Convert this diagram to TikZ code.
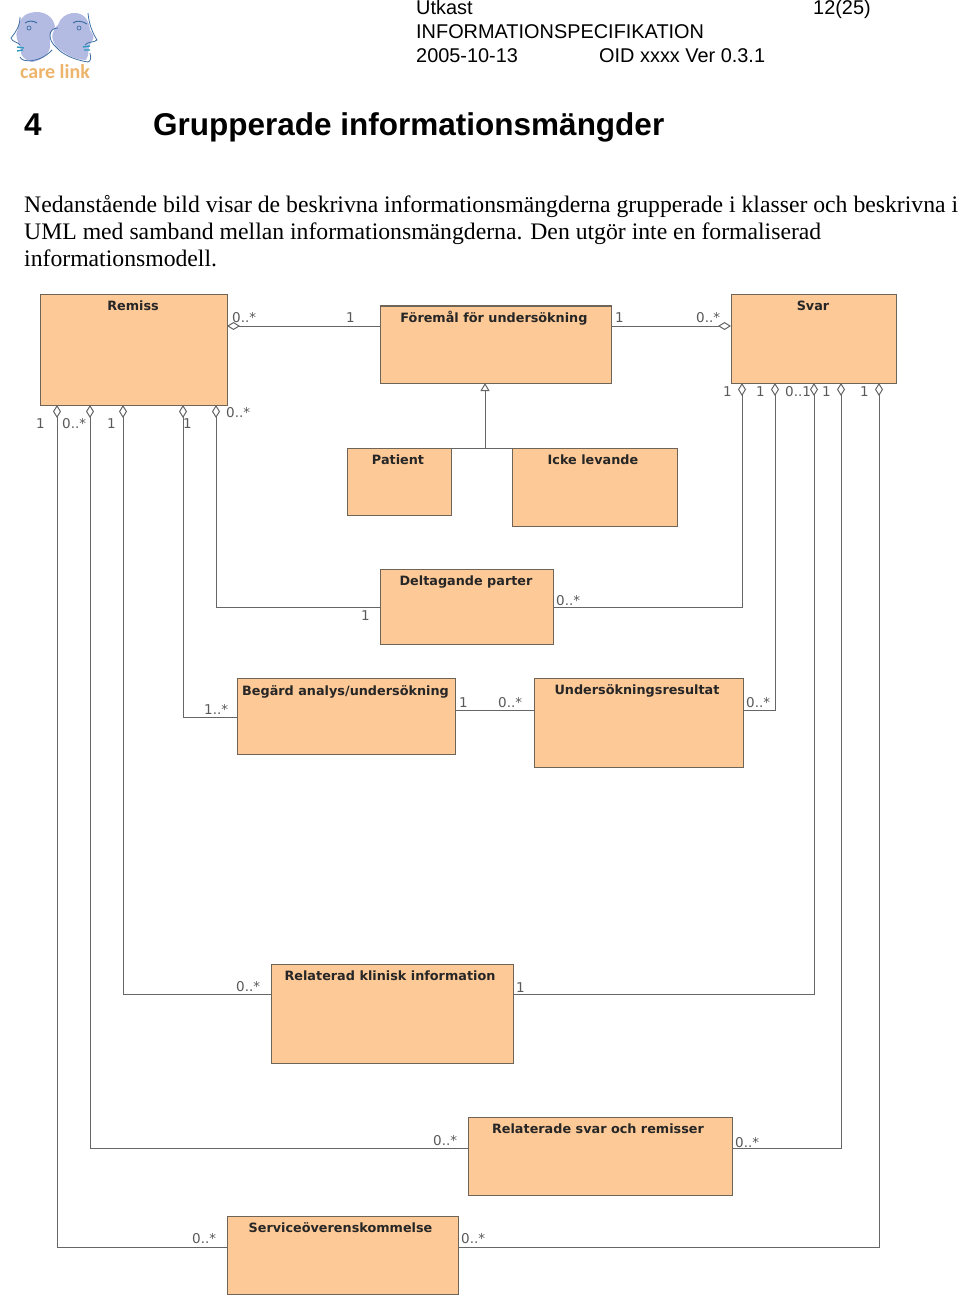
\documentclass[tikz,border=0pt]{standalone}
\usepackage{fontspec}
\setmainfont{Liberation Serif}
\newfontfamily\hdfont{Liberation Sans}
\newfontfamily\umlfont{DejaVu Sans}
\newfontfamily\logofont{Carlito}
\usetikzlibrary{arrows.meta}
\definecolor{umlfill}{HTML}{FDC997}
\definecolor{umlline}{HTML}{6E6458}
\definecolor{wire}{HTML}{666666}
\definecolor{face}{HTML}{B4BBE2}
\definecolor{faceline}{HTML}{3F6FA5}
\definecolor{logoorange}{HTML}{EDB46C}
\tikzset{
  x=1pt,y=-1pt,
  umlbox/.style={draw=umlline,line width=1pt,fill=umlfill,inner sep=0pt,outer sep=0pt,anchor=north west},
  umltitle/.style={font=\umlfont\bfseries\fontsize{12.8}{15}\selectfont,text=black!85,inner sep=0pt,anchor=base},
  mult/.style={font=\umlfont\fontsize{13.5}{15}\selectfont,text=black!65,inner sep=0pt,anchor=base west},
  wireline/.style={draw=wire,line width=1pt},
  aggr/.style={wireline,{Diamond[open,fill=white,length=13pt,width=8pt,line width=1pt]}-},
  inherit/.style={wireline,{Triangle[open,fill=white,length=8pt,width=9pt,line width=1pt]}-},
  hdtext/.style={font=\hdfont\fontsize{19.9}{24}\selectfont,inner sep=0pt,anchor=base west},
  bodytext/.style={font=\fontsize{23.7}{27}\selectfont,inner sep=0pt,anchor=base west},
}
\newcommand{\umlnode}[6]{% name, x1,y1,x2,y2, title x
  \node[umlbox,minimum width=#4pt-#2pt,minimum height=#5pt-#3pt] (#1) at (#2,#3) {};
}
\begin{document}
\begin{tikzpicture}
\useasboundingbox (0,0) rectangle (960,1305);
% logo
\path[fill=face] (30,13) .. controls (45,9) and (54,18) .. (55,27) .. controls (51,31) and (49,36) .. (50,44) .. controls (51,52) and (44,60) .. (32,62) .. controls (24,60) and (20,55) .. (21,50) .. controls (18,40) and (14,36) .. (18,30) .. controls (18,22) and (22,15) .. (30,13) -- cycle;
\path[fill=face] (72,13) .. controls (84,12) and (89,20) .. (90,30) .. controls (93,34) and (95,38) .. (92,41) .. controls (87,46) and (90,55) .. (86,60) .. controls (72,60) and (60,50) .. (56,46) .. controls (50,38) and (52,30) .. (58,25) .. controls (60,18) and (66,14) .. (72,13) -- cycle;
\draw[faceline,line width=.8pt] (20,17) .. controls (20,26) and (16,32) .. (11,38) .. controls (12,42) and (18,42) .. (20,45);
\draw[faceline,line width=.8pt] (20,57) .. controls (22,63) and (40,63) .. (52,50);
\draw[faceline,line width=.8pt] (88,13) .. controls (89,24) and (92,32) .. (97,40) .. controls (94,43) and (88,41) .. (85,45);
\draw[faceline,line width=.8pt] (90,53) .. controls (91,58) and (91,61) .. (88,62) .. controls (74,60) and (62,54) .. (57,48) .. controls (47,40) and (48,28) .. (58,28);
\draw[faceline,line width=1pt] (25,23) .. controls (29,20) and (34,21) .. (37,23) (73,23) .. controls (77,20) and (82,21) .. (87,24);
\draw[faceline,line width=.7pt] (29,28) circle[radius=2] (79,28) circle[radius=2];
\draw[faceline!70!cyan,line width=1.4pt] (17,47) -- (24,48) (17,51) -- (23,50) (90,46) -- (83,47) (90,50) -- (84,50);
\node[font=\logofont\bfseries\fontsize{20}{22}\selectfont,text=logoorange,inner sep=0pt,anchor=base] (logotext) at (55,79) {care link};
% header
\node[hdtext] (h1) at (416,15) {Utkast};
\node[hdtext] (h2) at (416,39) {INFORMATIONSPECIFIKATION};
\node[hdtext] (h3) at (416,63) {2005-10-13};
\node[hdtext] (h4) at (599,63) {OID xxxx Ver 0.3.1};
\node[hdtext] (h5) at (813,15) {12(25)};
\node[font=\hdfont\bfseries\fontsize{31.5}{36}\selectfont,inner sep=0pt,anchor=base west] (num) at (24,136) {4};
\node[font=\hdfont\bfseries\fontsize{31.5}{36}\selectfont,inner sep=0pt,anchor=base west] (head) at (153,136) {Grupperade informationsmängder};
\node[bodytext] (b1) at (24,213) {Nedanstående bild visar de beskrivna informationsmängderna grupperade i klasser och beskrivna i};
\node[bodytext] (b2) at (24,240) {UML med samband mellan informationsmängderna. Den utgör inte en formaliserad};
\node[bodytext] (b3) at (24,267) {informationsmodell.};
% boxes
\umlnode{remiss}{40}{295}{227}{405}{}
\umlnode{foremal}{380}{306}{611}{383}{}
\umlnode{svar}{731}{295}{896}{383}{}
\umlnode{patient}{347}{448}{451}{515}{}
\umlnode{icke}{512}{448}{677}{526}{}
\umlnode{delt}{380}{569}{553}{644}{}
\umlnode{begard}{237}{678}{455}{754}{}
\umlnode{unders}{534}{678}{743}{767}{}
\umlnode{klinisk}{271}{964}{513}{1063}{}
\umlnode{relsvar}{468}{1117}{732}{1195}{}
\umlnode{service}{227}{1216}{458}{1294}{}
% titles
\node[umltitle] (t1) at (133,311) {Remiss};
\node[umltitle] (t2) at (494,322) {Föremål för undersökning};
\node[umltitle] (t3) at (813,311) {Svar};
\node[umltitle] (t4) at (398,464) {Patient};
\node[umltitle] (t5) at (593,464) {Icke levande};
\node[umltitle] (t6) at (466,585) {Deltagande parter};
\node[umltitle] (t7) at (345.5,695) {Begärd analys/undersökning};
\node[umltitle] (t8) at (637,694) {Undersökningsresultat};
\node[umltitle] (t9) at (390,980) {Relaterad klinisk information};
\node[umltitle] (t10) at (598,1133) {Relaterade svar och remisser};
\node[umltitle] (t11) at (340.5,1232) {Serviceöverenskommelse};
% route coordinates
\foreach \n/\x in {ra/57,rb/90,rc/123,rd/183,re/216,sa/742,sb/775,sc/814,sd/841,se/879,inh/485}{\coordinate (\n) at (\x,0);}
\foreach \n/\y in {ya/326,yb/710}{\coordinate (\n) at (0,\y);}
\coordinate (ylow1) at (0,1247);\coordinate (ylow2) at (0,1148);\coordinate (ylow3) at (0,994);\coordinate (ylow4) at (0,717);\coordinate (ylow5) at (0,607);
% connectors
\draw[aggr] (remiss.east |- ya) -- (foremal.west |- ya);
\draw[aggr] (svar.west |- ya) -- (foremal.east |- ya);
\draw[wireline] (patient.north east) -- (icke.north west);
\draw[inherit] (foremal.south -| inh) -- (patient.north -| inh);
\draw[aggr] (remiss.south -| ra) -- (ra |- ylow1) -- (service.west |- ylow1);
\draw[aggr] (remiss.south -| rb) -- (rb |- ylow2) -- (relsvar.west |- ylow2);
\draw[aggr] (remiss.south -| rc) -- (rc |- ylow3) -- (klinisk.west |- ylow3);
\draw[aggr] (remiss.south -| rd) -- (rd |- ylow4) -- (begard.west |- ylow4);
\draw[aggr] (remiss.south -| re) -- (re |- ylow5) -- (delt.west |- ylow5);
\draw[aggr] (svar.south -| sa) -- (sa |- ylow5) -- (delt.east |- ylow5);
\draw[aggr] (svar.south -| sb) -- (sb |- yb) -- (unders.east |- yb);
\draw[aggr] (svar.south -| sc) -- (sc |- ylow3) -- (klinisk.east |- ylow3);
\draw[aggr] (svar.south -| sd) -- (sd |- ylow2) -- (relsvar.east |- ylow2);
\draw[aggr] (svar.south -| se) -- (se |- ylow1) -- (service.east |- ylow1);
\draw[wireline] (begard.east |- yb) -- (unders.west |- yb);
% multiplicities
\foreach \i/\x/\y/\t in {
 m1/232/323/{0..*}, m2/346/323/{1}, m3/615/323/{1}, m4/696/323/{0..*},
 m5/36/428/{1}, m6/62/428/{0..*}, m7/107/428/{1}, m8/183/428/{1}, m9/226/417/{0..*},
 m10/723/396/{1}, m11/756/396/{1}, m12/785/396/{0..1}, m13/822/396/{1}, m14/860/396/{1},
 m15/361/620/{1}, m16/556/605/{0..*}, m17/204/714/{1..*}, m18/459/707/{1}, m19/498/707/{0..*},
 m20/746/707/{0..*}, m21/236/991/{0..*}, m22/516/992/{1}, m23/433/1145/{0..*}, m24/735/1147/{0..*},
 m25/192/1243/{0..*}, m26/461/1243/{0..*}}{
 \node[mult] (\i) at (\x,\y) {\t};
}
\end{tikzpicture}
\end{document}
